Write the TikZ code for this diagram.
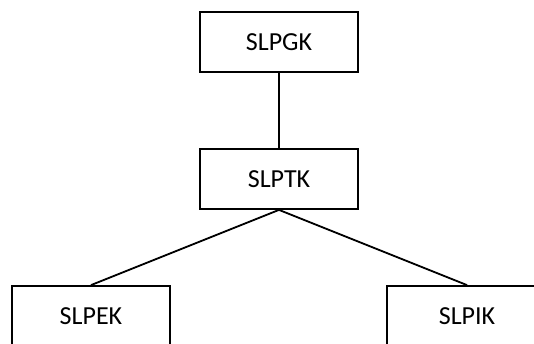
\documentclass[tikz,border=0pt]{standalone}
\usepackage{fontspec}
\setmainfont{Carlito}
\begin{document}
\begin{tikzpicture}[x=1pt,y=-1pt,
  box/.style={draw=black,line width=1.8pt,fill=white,inner sep=0pt,font=\fontsize{26}{30}\selectfont},
  conn/.style={draw=black,line width=1.8pt}]
\useasboundingbox (0,0) rectangle (534,343);
\node[box,minimum width=158pt,minimum height=60pt] (gk) at (279,42) {SLPGK};
\node[box,minimum width=158pt,minimum height=60pt] (tk) at (279,179) {SLPTK};
\node[box,minimum width=158pt,minimum height=60pt] (ek) at (91,316) {SLPEK};
\node[box,minimum width=160pt,minimum height=60pt] (ik) at (467,316) {SLPIK};
\draw[conn] (gk.south) -- (tk.north);
\draw[conn] (tk.south) -- (ek.north);
\draw[conn] (tk.south) -- (ik.north);
\end{tikzpicture}
\end{document}
